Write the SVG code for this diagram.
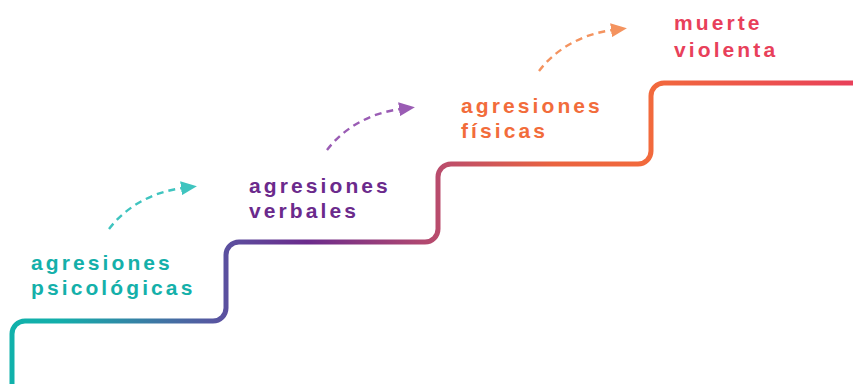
<svg xmlns="http://www.w3.org/2000/svg" width="853" height="384" viewBox="0 0 853 384">
  <style>
    .lbl { font-family: "Liberation Sans", Arial, sans-serif; font-weight: bold; font-size: 21px; letter-spacing: 3.1px; }
    .teal { fill: #14b0aa; }
    .purple { fill: #6b2a8c; }
    .orange { fill: #f26c3b; }
    .red { fill: #e8405a; }
    .arrow { fill: none; stroke-width: 2.4; stroke-dasharray: 7 5; }
  </style>
  <defs>
    <linearGradient id="stairGrad" gradientUnits="userSpaceOnUse" x1="0" y1="0" x2="853" y2="0">
      <stop offset="0" stop-color="#10b2ab"/>
      <stop offset="0.07" stop-color="#13aeaa"/>
      <stop offset="0.26" stop-color="#5a52a0"/>
      <stop offset="0.36" stop-color="#6b2b8c"/>
      <stop offset="0.52" stop-color="#bc4d6b"/>
      <stop offset="0.65" stop-color="#ea633f"/>
      <stop offset="0.76" stop-color="#f26a3c"/>
      <stop offset="1" stop-color="#e8405a"/>
    </linearGradient>
    <marker id="headTeal" markerUnits="userSpaceOnUse" markerWidth="16" markerHeight="14" refX="2" refY="7" orient="auto">
      <path d="M0,0 L16,7 L0,14 Z" fill="#3fc4bf"/>
    </marker>
    <marker id="headPurple" markerUnits="userSpaceOnUse" markerWidth="16" markerHeight="14" refX="2" refY="7" orient="auto">
      <path d="M0,0 L16,7 L0,14 Z" fill="#9a5cb4"/>
    </marker>
    <marker id="headOrange" markerUnits="userSpaceOnUse" markerWidth="16" markerHeight="14" refX="2" refY="7" orient="auto">
      <path d="M0,0 L16,7 L0,14 Z" fill="#f4935f"/>
    </marker>
  </defs>

  <g id="stairs">
    <path d="M12,384 V334 A13,13 0 0 1 25,321 H213 A13,13 0 0 0 226,308 V255 A13,13 0 0 1 239,242 H425 A13,13 0 0 0 438,229 V177 A13,13 0 0 1 451,164 H638 A13,13 0 0 0 651,151 V96 A13,13 0 0 1 664,83 H853" fill="none" stroke="url(#stairGrad)" stroke-width="5"/>
  </g>

  <g id="connectors">
    <path class="arrow" stroke="#3fc4bf" d="M109,229 C124,209 150,192 183,188" marker-end="url(#headTeal)"/>
    <path class="arrow" stroke="#9a5cb4" d="M327,150 C342,130 368,113 401,109" marker-end="url(#headPurple)"/>
    <path class="arrow" stroke="#f4935f" d="M539,71 C554,51 580,34 613,30" marker-end="url(#headOrange)"/>
  </g>

  <g id="node-psicologicas">
    <text class="lbl teal" x="31" y="270">agresiones</text>
    <text class="lbl teal" x="31" y="295">psicológicas</text>
  </g>
  <g id="node-verbales">
    <text class="lbl purple" x="249" y="193">agresiones</text>
    <text class="lbl purple" x="249" y="218">verbales</text>
  </g>
  <g id="node-fisicas">
    <text class="lbl orange" x="461" y="113">agresiones</text>
    <text class="lbl orange" x="461" y="138">físicas</text>
  </g>
  <g id="node-muerte">
    <text class="lbl red" x="674" y="30">muerte</text>
    <text class="lbl red" x="674" y="57">violenta</text>
  </g>
</svg>
